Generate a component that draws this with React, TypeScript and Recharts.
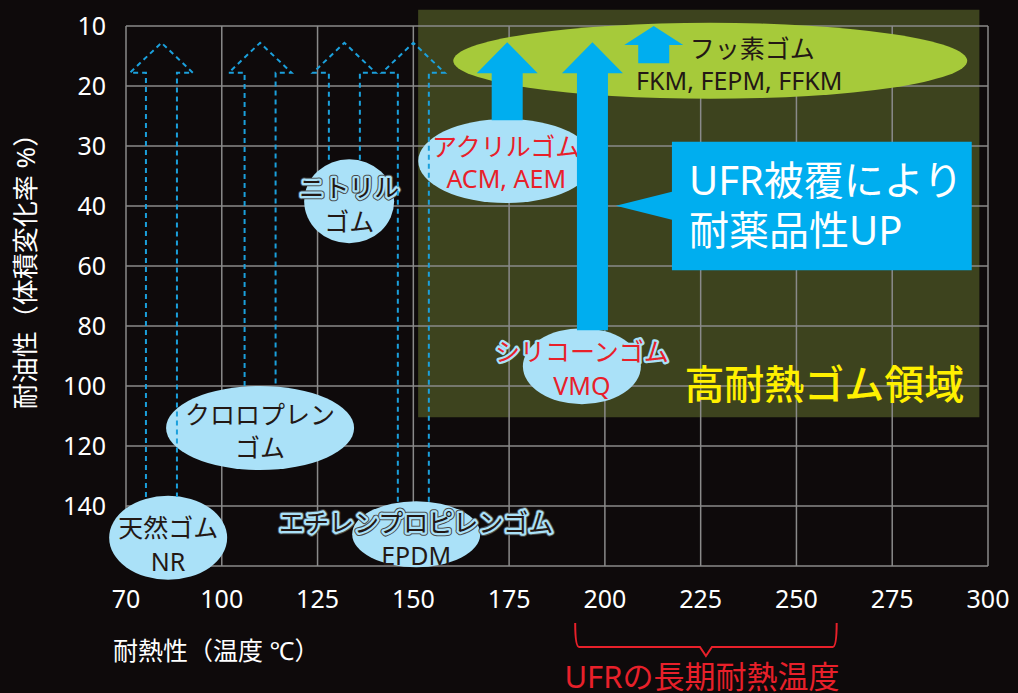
import React from 'react'
import { ComposedChart, XAxis, YAxis, CartesianGrid, Scatter, ReferenceArea } from 'recharts'

// axis categories (evenly spaced, so both axes run on an index scale 0..9)
const heatTicks = ['70', '100', '125', '150', '175', '200', '225', '250', '275', '300']
const oilTicks = ['10', '20', '30', '40', '60', '80', '100', '120', '140', '']

// rubber types, placed on the index scales
const rubberKeys = ['FKM', 'NR', 'CR', 'NBR', 'EPDM', 'ACM', 'VMQ']
const rubberLine1 = ['フッ素ゴム', '天然ゴム', 'クロロプレン', 'ニトリル', 'エチレンプロピレンゴム', 'アクリルゴム', 'シリコーンゴム']
const rubberLine2 = ['FKM, FEPM, FFKM', 'NR', 'ゴム', 'ゴム', 'EPDM', 'ACM, AEM', 'VMQ']
const rubberHeat = [6.1, 0.44, 1.4, 2.33, 3.03, 3.97, 4.76]
const rubberOil = [0.58, 8.53, 6.7, 2.92, 8.47, 2.25, 5.67]

// "UFR coating" improvement arrows
const arrowKeys = ['NR', 'CR', 'NBR', 'EPDM', 'ACM', 'VMQ', 'FKM']
const arrowHeat = [0.37, 1.4, 2.28, 3.0, 3.98, 4.87, 5.51]
const arrowFrom = [7.85, 6.0, 2.23, 7.93, 1.57, 5.07, 0.62]
const arrowTo = [0.28, 0.28, 0.28, 0.28, 0.27, 0.27, 0.0]

// zones / annotations
const highZoneHeat = [3.05, 8.91]
const highZoneOil = [-0.27, 6.52]
const calloutHeat = [5.7, 8.83]
const calloutOil = [1.93, 4.07]
const ufrHeat = [4.69, 7.42]
const ufrOil = [9.95, 10.5]

const FONT = '"Noto Sans", "Noto Sans CJK JP", sans-serif'
const BG = '#0e0a0b'
const OLIVE = '#3d431e'
const LIGHT = '#aae1f8'
const GREEN = '#a6ca3a'
const CYAN = '#00aeef'
const DASH_BLUE = '#1ba0dc'
const RED = '#e8202a'
const DARK = '#231815'
const YELLOW = '#fff000'

type RubberStyle = { rx: number; ry: number; fill: string; color: string; d1: number; d2: number; dx1?: number; dx2?: number; outline?: boolean; outer?: boolean }

const rubberStyle: Record<string, RubberStyle> = {
  FKM: { rx: 257, ry: 38, fill: GREEN, color: DARK, d1: -13, d2: 19, dx1: 42, dx2: 29 },
  NR: { rx: 59, ry: 42, fill: LIGHT, color: DARK, d1: -11, d2: 23 },
  CR: { rx: 94, ry: 42, fill: LIGHT, color: DARK, d1: -14, d2: 19 },
  NBR: { rx: 45, ry: 42, fill: LIGHT, color: DARK, d1: -14, d2: 20, outline: true, outer: true },
  EPDM: { rx: 64, ry: 33, fill: LIGHT, color: DARK, d1: -12, d2: 21, outline: true, outer: true },
  ACM: { rx: 88, ry: 42, fill: LIGHT, color: RED, d1: -15, d2: 17 },
  VMQ: { rx: 59, ry: 38, fill: LIGHT, color: RED, d1: -15, d2: 19, outline: true },
}

const DASHED = { dashed: true, head: 63, shaft: 31, headH: 30 }
const SOLID = { dashed: false, head: 61, shaft: 31, headH: 31 }
const SMALL = { dashed: false, head: 59, shaft: 31, headH: 19 }
const arrowStyle: Record<string, typeof DASHED> = {
  NR: DASHED, CR: DASHED, NBR: DASHED, EPDM: DASHED, ACM: SOLID, VMQ: SOLID, FKM: SMALL,
}

const rubberData = rubberKeys.map((key, i) => ({
  key, x: rubberHeat[i], y: rubberOil[i], line1: rubberLine1[i], line2: rubberLine2[i],
}))

function Txt({ x, y, text, color, size, outline, outer, anchor = 'middle', weight = 400 }: any) {
  const common = { x, y, fontSize: size, fontFamily: FONT, fontWeight: weight, textAnchor: anchor, dominantBaseline: 'central' as const }
  return (
    <g>
      {outer && <text {...common} fill="none" stroke="#4a4a4a" strokeWidth={6.5} strokeLinejoin="round">{text}</text>}
      {outline && <text {...common} fill="none" stroke={LIGHT} strokeWidth={4.5} strokeLinejoin="round">{text}</text>}
      <text {...common} fill={color}>{text}</text>
    </g>
  )
}

function RubberShape(props: any) {
  const { cx, cy, payload } = props
  const st = rubberStyle[payload.key]
  return (
    <g>
      <ellipse cx={cx} cy={cy} rx={st.rx} ry={st.ry} fill={st.fill} />
      <Txt x={cx + (st.dx1 || 0)} y={cy + st.d1} text={payload.line1} color={st.color} size={25} outline={st.outline} outer={st.outer} />
      <Txt x={cx + (st.dx2 || 0)} y={cy + st.d2} text={payload.line2} color={st.color} size={25} />
    </g>
  )
}

function ArrowShape({ x, y, width, height, st }: any) {
  const cx = x + width / 2
  const bottom = y + height
  const base = y + st.headH
  const h = st.head / 2
  const s = st.shaft / 2
  const pts = [[cx - s, bottom], [cx - s, base], [cx - h, base], [cx, y], [cx + h, base], [cx + s, base], [cx + s, bottom]]
  const d = pts.map((p, i) => `${i ? 'L' : 'M'}${p[0]},${p[1]}`).join(' ')
  if (st.dashed) return <path d={d} fill="none" stroke={DASH_BLUE} strokeWidth={2} strokeDasharray="5 4" />
  return <path d={d + ' Z'} fill={CYAN} />
}

function CalloutShape({ x, y, width, height }: any) {
  const d = `M${x},${y} L${x + width},${y} L${x + width},${y + height} L${x},${y + height} L${x},${y + 78} L${x - 56},${y + 64} L${x},${y + 50} Z`
  return (
    <g>
      <path d={d} fill={CYAN} />
      <Txt x={x + 17} y={y + 38} text="UFR被覆により" color="#fff" size={40} anchor="start" />
      <Txt x={x + 17} y={y + 88} text="耐薬品性UP" color="#fff" size={40} anchor="start" />
    </g>
  )
}

function ZoneLabel({ x, y, width, height }: any) {
  return (
    <text x={x + width - 15} y={y + height - 34} fill={YELLOW} fontSize={40} fontWeight={500} fontFamily={FONT} textAnchor="end" dominantBaseline="central">
      高耐熱ゴム領域
    </text>
  )
}

function BracketShape({ x, y, width }: any) {
  const cx = x + width / 2
  const ly = y + 24
  const d = `M${x},${y} Q${x},${ly} ${x + 4},${ly} L${cx - 6},${ly} L${cx},${ly + 9} L${cx + 6},${ly} L${x + width - 4},${ly} Q${x + width},${ly} ${x + width},${y}`
  return (
    <g>
      <path d={d} fill="none" stroke={RED} strokeWidth={2} />
      <Txt x={cx - 4} y={y + 53} text="UFRの長期耐熱温度" color={RED} size={31} />
    </g>
  )
}

function XTitle({ viewBox }: any) {
  return (
    <text x={viewBox.x - 13} y={viewBox.y + 84} fill="#fff" fontSize={25} fontFamily={FONT} dominantBaseline="central">
      耐熱性（温度 ℃）
    </text>
  )
}

function YTitle({ viewBox }: any) {
  const x = viewBox.x + 25
  const y = viewBox.y + 239
  return (
    <text x={x} y={y} fill="#fff" fontSize={26} fontFamily={FONT} textAnchor="middle" dominantBaseline="central" transform={`rotate(-90 ${x} ${y})`}>
      耐油性（体積変化率 %）
    </text>
  )
}

export default function App() {
  const tickStyle = { fill: '#fff', fontSize: 25, fontFamily: FONT }
  return (
    <div style={{ position: 'absolute', left: 0, top: 0, width: 1018, height: 693, background: BG }}>
      <ComposedChart width={1018} height={693} margin={{ top: 26, right: 30, bottom: 67, left: 0 }}>
        <ReferenceArea
          x1={highZoneHeat[0]} x2={highZoneHeat[1]} y1={highZoneOil[0]} y2={highZoneOil[1]}
          fill={OLIVE} fillOpacity={1} stroke="none" ifOverflow="visible" zIndex={-150}
        />
        <CartesianGrid stroke="#8a8a8a" strokeWidth={1.5} />
        <XAxis
          type="number" dataKey="x" domain={[0, 9]} ticks={heatTicks.map((_, i) => i)} interval={0}
          tickFormatter={(v: number) => heatTicks[v]} axisLine={false} tickLine={false} tickSize={0} tickMargin={24}
          height={60} tick={tickStyle} label={(p: any) => <XTitle {...p} />}
        />
        <YAxis
          type="number" dataKey="y" domain={[0, 9]} reversed ticks={oilTicks.map((_, i) => i)} interval={0}
          tickFormatter={(v: number) => oilTicks[v]} axisLine={false} tickLine={false} tickSize={0} tickMargin={20}
          width={126} tick={tickStyle} label={(p: any) => <YTitle {...p} />}
        />
        <Scatter data={rubberData} dataKey="y" shape={RubberShape} isAnimationActive={false} zIndex={600} />
        {arrowKeys.map((k, i) => (
          <ReferenceArea
            key={k} x1={arrowHeat[i] - 0.01} x2={arrowHeat[i] + 0.01} y1={arrowTo[i]} y2={arrowFrom[i]}
            ifOverflow="visible" zIndex={700}
            shape={(p: any) => <ArrowShape {...p} st={arrowStyle[k]} />}
          />
        ))}
        <ReferenceArea
          x1={calloutHeat[0]} x2={calloutHeat[1]} y1={calloutOil[0]} y2={calloutOil[1]}
          ifOverflow="visible" zIndex={800} shape={(p: any) => <CalloutShape {...p} />}
        />
        <ReferenceArea
          x1={highZoneHeat[0]} x2={highZoneHeat[1]} y1={highZoneOil[0]} y2={highZoneOil[1]}
          ifOverflow="visible" zIndex={800} shape={(p: any) => <ZoneLabel {...p} />}
        />
        <ReferenceArea
          x1={ufrHeat[0]} x2={ufrHeat[1]} y1={ufrOil[0]} y2={ufrOil[1]}
          ifOverflow="visible" zIndex={800} shape={(p: any) => <BracketShape {...p} />}
        />
      </ComposedChart>
    </div>
  )
}
